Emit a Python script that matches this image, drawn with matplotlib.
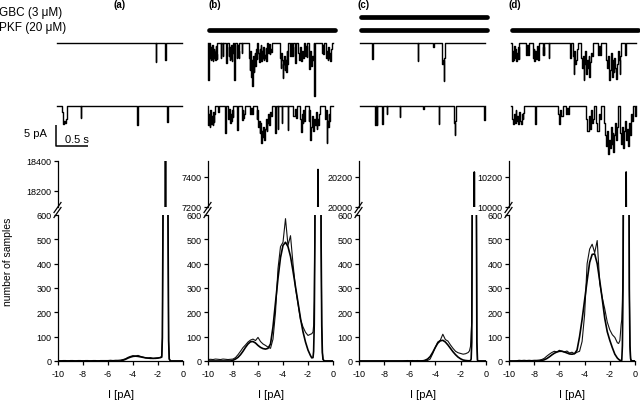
import numpy as np
import matplotlib
matplotlib.use("Agg")
import matplotlib.pyplot as plt
from matplotlib.lines import Line2D

plt.rcParams['font.family'] = ['Liberation Sans', 'DejaVu Sans']
plt.rcParams['axes.unicode_minus'] = False

# ------------------------------------------------------------------ data
panel_labels = ["(a)", "(b)", "(c)", "(d)"]
drug_names = ["GBC (3 μM)", "PKF (20 μM)"]
gbc_on = [False, False, True, False]
pkf_on = [False, True, True, True]

x_ticks = [-10, -8, -6, -4, -2, 0]
lower_ticks = [0, 100, 200, 300, 400, 500, 600]
upper_ticks = [[18200, 18400], [7200, 7400], [20000, 20200], [10000, 10200]]
upper_limits = [(18093, 18400), (7200, 7510), (20000, 20310), (10000, 10310)]

scale_pA = 5
scale_s = 0.5

# current axis of the amplitude histograms (pA)
open_I = [-10.0, -9.8, -9.6, -9.4, -9.2, -9.0, -8.8, -8.6, -8.4, -8.2,
          -8.0, -7.8, -7.6, -7.4, -7.2, -7.0, -6.8, -6.6, -6.4, -6.2,
          -6.0, -5.8, -5.6, -5.4, -5.2, -5.0, -4.8, -4.6, -4.4, -4.2,
          -4.0, -3.8, -3.6, -3.4, -3.2, -3.0, -2.8, -2.6, -2.4, -2.2,
          -2.0, -1.8]

# (a) control
a_raw = [2, 1, 2, 2, 1, 2, 2, 1, 2, 2,
         1, 2, 2, 1, 2, 2, 1, 2, 2, 2,
         2, 3, 2, 3, 3, 4, 6, 9, 15, 19,
         22, 20, 23, 19, 16, 13, 12, 14, 10, 12,
         13, 15]
a_fit = [0, 0, 0, 0, 0, 0, 0, 0, 0, 0,
         0, 0, 0, 0, 0, 0, 0, 0, 0, 0,
         0, 0, 0, 0, 0, 0, 3, 7, 12, 16,
         19, 20, 19, 17, 15, 13, 12, 11, 11, 11,
         12, 14]
a_peak_I = [-1.7, -1.65, -1.6, -1.55, -1.5, -1.45, -1.4, -1.35, -1.3, -1.25,
            -1.2, -1.15, -1.1, -1.0, 0.0]
a_peak_raw = [20, 98, 600, 2650, 7840, 15000, 18600, 15000, 7840, 2650,
              585, 83, 8, 0, 0]
a_peak_fit = [16, 95, 600, 2650, 7840, 15000, 18600, 15000, 7840, 2650,
              585, 83, 8, 0, 0]

# (b) PKF
b_raw = [6, 7, 6, 8, 7, 6, 8, 7, 6, 7,
         8, 14, 26, 40, 55, 66, 78, 86, 90, 84,
         97, 80, 70, 64, 57, 52, 90, 200, 380, 470,
         488, 585, 475, 515, 400, 300, 235, 170, 140, 118,
         105, 110]
b_fit = [0, 0, 0, 0, 0, 0, 0, 0, 0, 0,
         3, 8, 15, 26, 40, 56, 70, 79, 80, 74,
         64, 56, 51, 49, 52, 70, 140, 240, 340, 425,
         475, 488, 470, 430, 370, 305, 240, 175, 120, 78,
         45, 22]
b_peak_I = [-1.7, -1.6, -1.55, -1.5, -1.45, -1.4, -1.35, -1.3, -1.25, -1.2,
            -1.15, -1.1, -1.05, -1.0, -0.95, -0.9, -0.85, -0.8, -0.7, 0.0]
b_peak_raw = [112, 119, 145, 246, 576, 1375, 2790, 4810, 6700, 7450,
              6700, 4810, 2790, 1295, 486, 146, 35, 7, 0, 0]
b_peak_fit = [13, 14, 40, 150, 488, 1297, 2790, 4810, 6700, 7450,
              6700, 4810, 2790, 1295, 486, 146, 35, 7, 0, 0]

# (c) GBC + PKF
c_raw = [0, 0, 0, 0, 0, 0, 0, 0, 0, 0,
         0, 0, 0, 0, 0, 0, 0, 0, 1, 2,
         1, 2, 1, 2, 1, 2, 1, 2, 8, 30,
         55, 78, 85, 110, 88, 82, 66, 52, 40, 34,
         31, 28]
c_fit = [0, 0, 0, 0, 0, 0, 0, 0, 0, 0,
         0, 0, 0, 0, 0, 0, 0, 0, 0, 0,
         0, 0, 0, 0, 0, 0, 3, 8, 18, 35,
         55, 73, 83, 85, 78, 66, 52, 38, 26, 16,
         9, 4]
c_peak_I = [-1.6, -1.4, -1.3, -1.22, -1.17, -1.12, -1.07, -1.02, -0.97, -0.92,
            -0.87, -0.82, -0.77, -0.72, -0.67, -0.6, 0.0]
c_peak_raw = [30, 35, 42, 60, 118, 160, 900, 5050, 14300, 20233,
              14300, 5050, 890, 78, 3, 0, 0]
c_peak_fit = [2, 1, 1, 2, 8, 78, 890, 5050, 14300, 20233,
              14300, 5050, 890, 78, 3, 0, 0]

# (d) PKF
d_raw = [0, 0, 0, 1, 3, 2, 3, 2, 3, 2,
         3, 3, 4, 6, 11, 20, 28, 35, 40, 37,
         44, 40, 37, 41, 33, 36, 30, 36, 40, 80,
         190, 400, 460, 480, 445, 495, 320, 260, 214, 160,
         128, 108]
d_fit = [0, 0, 0, 0, 0, 0, 0, 0, 0, 0,
         0, 0, 0, 2, 5, 10, 17, 25, 32, 37,
         40, 40, 37, 33, 29, 28, 30, 45, 100, 170,
         250, 330, 405, 438, 440, 400, 330, 255, 175, 120,
         85, 55]
d_peak_I = [-1.6, -1.4, -1.3, -1.2, -1.1, -1.05, -1.0, -0.95, -0.9, -0.85,
            -0.8, -0.75, -0.7, -0.65, -0.6, -0.55, -0.5, -0.45, -0.4, -0.35,
            -0.3, 0.0]
d_peak_raw = [97, 75, 72, 84, 150, 170, 250, 400, 1065, 2865,
              5810, 8890, 10233, 8890, 5810, 2865, 1065, 297, 63, 10,
              1, 0]
d_peak_fit = [28, 12, 7, 3, 2, 3, 63, 297, 1065, 2865,
              5810, 8890, 10233, 8890, 5810, 2865, 1065, 297, 63, 10,
              1, 0]

# single-channel traces: (start s, end s, [successive current levels pA])
trace_T = 1.95
a1_events = [(1.545, 1.551, [-4.5]), (1.688, 1.694, [-4.0])]
a2_events = [(0.075, 0.15, [-1.5, -4.3, -3.6, -4.0, -3.0]),
             (0.375, 0.381, [-2.9]), (1.25, 1.256, [-4.5]), (1.72, 1.726, [-3.8])]
b1_events = [(0.005, 0.012, [-8.7]),
             (0.031, 0.146, [-3.5, -1.0, -4.0, -2.5, -3.8, -0.5, -4.2, -3.0,
                             -1.5, -3.6, -2.2, -4.0, -0.8, -3.2, -2.6, -3.9]),
             (0.198, 0.205, [-3.6]), (0.229, 0.24, [-3.2]), (0.281, 0.292, [-4.8]),
             (0.323, 0.385, [-3.0, -1.0, -4.0, -2.0, -3.5, -0.5, -4.2, -2.5]),
             (0.411, 0.418, [-8.7]),
             (0.448, 0.49, [-3.6, -0.5, -3.4, -2.0, -3.5]),
             (0.526, 0.532, [-2.4]),
             (0.646, 0.771, [-3.5, -6.5, -2.0, -5.0, -8.0, -4.0, -10.3, -6.0,
                             -3.0, -7.0, -4.5, -2.5, -5.5, -3.0, -1.5, -3.8]),
             (0.786, 0.917, [-2.5, -4.5, -1.5, -3.8, -0.5, -4.2, -2.0, -3.5,
                             -1.0, -4.0, -2.8, -3.6, -1.2, -4.2]),
             (0.943, 0.995, [-2.4, -0.3, -2.6, -1.5, -2.2]),
             (1.125, 1.255, [-3.5, -6.0, -2.5, -4.0, -8.3, -5.0, -3.0, -6.5,
                             -4.0, -7.0, -2.0, -5.0, -3.0]),
             (1.281, 1.29, [-3.2]), (1.31, 1.333, [-3.2, -1.0, -3.0]),
             (1.359, 1.366, [-4.8]),
             (1.411, 1.49, [-2.5, -4.0, -1.0, -3.0, -4.2, -2.0, -3.5]),
             (1.516, 1.552, [-3.2, -0.8, -3.4]),
             (1.568, 1.646, [-3.5, -6.3, -2.0, -4.5, -5.5, -3.0, -4.0]),
             (1.656, 1.665, [-12.7]),
             (1.776, 1.812, [-2.4, -0.5, -2.6]),
             (1.844, 1.932, [-3.5, -2.0, -4.0, -1.0, -3.6, -2.5, -4.2, -1.5])]
b2_events = [(0.005, 0.109, [-4.5, -2.0, -4.9, -1.0, -3.0, -4.2, -2.5, -4.6,
                             -1.5, -3.8, -2.0]),
             (0.161, 0.165, [-1.5]), (0.27, 0.28, [-6.5]),
             (0.318, 0.396, [-3.0, -0.8, -4.1, -2.0, -3.6, -1.0, -2.6]),
             (0.455, 0.465, [-5.7]),
             (0.526, 0.578, [-3.3, -1.0, -2.8, -2.0]),
             (0.66, 0.70, [-1.8, -0.5, -1.8]),
             (0.76, 0.995, [-3.0, -1.0, -5.0, -3.5, -6.5, -4.0, -8.9, -6.0,
                            -7.5, -5.0, -8.0, -5.5, -3.0, -6.0, -4.0, -2.0,
                            -4.5, -3.0, -1.5, -2.5]),
             (1.05, 1.058, [-6.5]), (1.09, 1.097, [-5.5]), (1.15, 1.157, [-4.1]),
             (1.245, 1.255, [-5.7]), (1.333, 1.385, [-2.5, -0.8, -2.8]),
             (1.437, 1.516, [-3.0, -6.2, -2.0, -4.0, -1.0, -3.5]),
             (1.568, 1.75, [-3.5, -1.0, -8.1, -5.0, -2.5, -6.0, -3.0, -4.5,
                            -1.5, -5.5, -3.0, -4.5, -2.0]),
             (1.828, 1.906, [-3.0, -1.0, -8.9, -3.5, -5.0, -2.0, -3.5])]
c1_events = [(0.19, 0.196, [-3.8]), (0.898, 0.904, [-4.2]), (1.144, 1.148, [-1.0]),
             (1.276, 1.328, [-3.0, -5.0, -4.0, -9.0, -3.5])]
c2_events = [(0.234, 0.245, [-4.6]), (0.25, 0.255, [-3.0]), (0.26, 0.27, [-4.6]),
             (0.35, 0.357, [-4.4]), (0.417, 0.421, [-1.8]), (0.625, 0.63, [-2.6]),
             (0.99, 0.994, [-0.7]), (1.229, 1.235, [-4.2]),
             (1.469, 1.50, [-4.0, -7.0, -3.5]),
             (1.94, 1.946, [-3.4])]
d1_events = [(0.016, 0.13, [-4.4, -2.0, -4.0, -0.8, -3.5, -1.5, -4.2, -2.5,
                            -3.8, -1.0, -3.8]),
             (0.24, 0.28, [-2.8, -0.5, -2.8]),
             (0.339, 0.443, [-3.5, -1.5, -4.4, -2.0, -3.8, -0.8, -4.0, -2.5]),
             (0.495, 0.52, [-2.8, -1.0, -2.8]), (0.585, 0.595, [-3.6]),
             (0.92, 0.93, [-3.6]),
             (0.964, 1.042, [-3.0, -7.5, -2.0, -5.0, -4.0, -1.5]),
             (1.094, 1.276, [-3.5, -6.0, -3.0, -8.7, -5.0, -2.0, -7.5, -4.0,
                             -6.0, -3.0, -8.0, -4.5, -2.5, -3.0]),
             (1.36, 1.40, [-2.8, -0.8, -2.8]),
             (1.484, 1.719, [-4.0, -6.0, -3.0, -5.5, -8.7, -6.5, -2.5, -8.0,
                             -4.0, -7.0, -3.5, -6.0, -8.5, -5.0, -2.0, -4.0,
                             -7.5, -3.0]),
             (1.78, 1.80, [-2.8])]
d2_events = [(0.016, 0.208, [-3.0, -4.4, -2.0, -4.0, -1.0, -3.5, -2.5, -4.2,
                             -1.5, -3.5, -4.4, -2.0, -3.0, -1.6]),
             (0.38, 0.39, [-4.4]),
             (0.729, 0.807, [-2.0, -4.4, -1.0, -2.5]),
             (0.865, 0.905, [-2.0, -0.5, -2.0]),
             (1.172, 1.302, [-3.0, -6.0, -2.5, -5.5, -1.0, -4.0, -3.0]),
             (1.328, 1.406, [-4.0, -6.0, -2.0, -3.0]),
             (1.458, 1.667, [-4.0, -7.0, -9.5, -6.0, -11.5, -8.0, -10.0, -5.0,
                             -9.0, -6.5, -11.0, -7.0, -4.0, -8.0, -5.0]),
             (1.693, 1.901, [-3.0, -6.5, -9.0, -5.0, -9.9, -6.0, -3.5, -8.0,
                             -5.5, -9.5, -4.0, -7.0, -2.0, -3.5]),
             (1.93, 1.95, [-2.5])]
trace2_offset = -15.0

# ------------------------------------------------------------------ layout (pixels)
W, H = 640, 402
fig = plt.figure(figsize=(W / 100, H / 100), dpi=100)


def fx(px):
    return px / W


def fy(py):
    return 1 - py / H


def add_ax(left, top, width, bottom):
    return fig.add_axes([fx(left), fy(bottom), width / W, (bottom - top) / H])


hist_left = [58, 208, 359, 509]
hist_width = [125, 125, 127, 126]
lower_top, lower_bottom = 216, 362
upper_top, upper_bottom = 161.5, 208
trace_left = [57, 208, 360, 511]
trace_width = 125
trace_top, trace_bottom = 34, 170
trace_ylim = (2.38 - (trace_bottom - trace_top) / 4.2, 2.38)

tick_fs = 6.5
lw_axis = 0.9


def trace_line(events, T):
    t = [0.0]
    y = [0.0]
    for t0, t1, levels in events:
        n = len(levels)
        dt = (t1 - t0) / n
        t.append(t0)
        y.append(0.0)
        for k, a in enumerate(levels):
            t += [t0 + k * dt, t0 + (k + 1) * dt]
            y += [a, a]
        t.append(t1)
        y.append(0.0)
    t.append(T)
    y.append(0.0)
    return np.array(t), np.array(y)


hist_sets = [
    (a_raw, a_fit, a_peak_I, a_peak_raw, a_peak_fit),
    (b_raw, b_fit, b_peak_I, b_peak_raw, b_peak_fit),
    (c_raw, c_fit, c_peak_I, c_peak_raw, c_peak_fit),
    (d_raw, d_fit, d_peak_I, d_peak_raw, d_peak_fit),
]
trace_sets = [(a1_events, a2_events), (b1_events, b2_events),
              (c1_events, c2_events), (d1_events, d2_events)]

for i in range(4):
    raw, fit, pk_I, pk_raw, pk_fit = hist_sets[i]
    I_all = np.array(open_I + pk_I)
    raw_all = np.array(raw + pk_raw)
    fit_all = np.array(fit + pk_fit)

    # lower histogram axis
    axl = add_ax(hist_left[i], lower_top, hist_width[i], lower_bottom)
    axl.plot(I_all, raw_all, color='#111111', lw=0.8)
    axl.plot(I_all, fit_all, color='black', lw=1.2)
    axl.set_xlim(-10, 0)
    axl.set_ylim(0, 600)
    axl.set_xticks(x_ticks)
    axl.set_yticks(lower_ticks)
    axl.set_xticklabels([str(v) for v in x_ticks])
    for s in ['top', 'right']:
        axl.spines[s].set_visible(False)
    for s in ['left', 'bottom']:
        axl.spines[s].set_linewidth(lw_axis)
    axl.tick_params(direction='out', length=3, width=lw_axis, pad=1.5,
                    labelsize=tick_fs)
    axl.tick_params(axis='x', pad=2.5)
    fig.text(fx(hist_left[i] + hist_width[i] / 2), fy(395), "I [pA]",
             ha='center', va='center', fontsize=8)

    # upper (broken) histogram axis
    axu = add_ax(hist_left[i], upper_top, hist_width[i], upper_bottom)
    axu.plot(I_all, raw_all, color='#111111', lw=0.8)
    axu.plot(I_all, fit_all, color='black', lw=1.2)
    axu.set_xlim(-10, 0)
    axu.set_ylim(*upper_limits[i])
    axu.set_yticks(upper_ticks[i])
    axu.set_xticks([])
    for s in ['top', 'right', 'bottom']:
        axu.spines[s].set_visible(False)
    axu.spines['left'].set_linewidth(lw_axis)
    axu.tick_params(direction='out', length=3, width=lw_axis, pad=1.5,
                    labelsize=tick_fs)

    # break marks
    xl = hist_left[i]
    for yc in (208.5, 213.5):
        fig.add_artist(Line2D([fx(xl - 4), fx(xl + 3)],
                              [fy(yc + 5), fy(yc - 5)],
                              transform=fig.transFigure, color='black', lw=0.9))

    # single-channel traces
    axt = add_ax(trace_left[i], trace_top, trace_width, trace_bottom)
    axt.set_axis_off()
    axt.set_xlim(0, trace_T)
    axt.set_ylim(*trace_ylim)
    ev1, ev2 = trace_sets[i]
    t1, y1 = trace_line(ev1, trace_T)
    t2, y2 = trace_line(ev2, trace_T)
    axt.plot(t1, y1, color='black', lw=1.0, clip_on=False)
    axt.plot(t2, y2 + trace2_offset, color='black', lw=1.0, clip_on=False)

    if i == 0:
        x0 = -0.016
        yb = trace2_offset - 9.5
        axt.plot([x0, x0, x0 + scale_s], [yb + scale_pA, yb, yb],
                 color='black', lw=1.1, clip_on=False, solid_capstyle='butt')
        axt.text(x0 - 0.14, yb + scale_pA * 0.6, f"{scale_pA} pA",
                 ha='right', va='center', fontsize=8)
        axt.text(x0 + 0.33, yb + 0.5, f"{scale_s} s",
                 ha='center', va='bottom', fontsize=8)

    # drug application bars
    bar_x = [fx(trace_left[i] + 1), fx(trace_left[i] + trace_width + 2)]
    if gbc_on[i]:
        fig.add_artist(Line2D(bar_x, [fy(17.5)] * 2, transform=fig.transFigure,
                              color='black', lw=3.4, solid_capstyle='round'))
    if pkf_on[i]:
        fig.add_artist(Line2D(bar_x, [fy(30.5)] * 2, transform=fig.transFigure,
                              color='black', lw=3.4, solid_capstyle='round'))

    fig.text(fx(trace_left[i] + [63, 7, 4, 4][i]), fy(5), panel_labels[i],
             ha='center', va='center', fontsize=7, fontweight='bold')

fig.text(fx(-1), fy(13), drug_names[0], ha='left', va='center', fontsize=8.5)
fig.text(fx(-1), fy(28), drug_names[1], ha='left', va='center', fontsize=8.5)
fig.text(fx(8), fy(262), "number of samples", rotation=90,
         ha='center', va='center', fontsize=7.5)

fig.savefig("out.png", dpi=100)
